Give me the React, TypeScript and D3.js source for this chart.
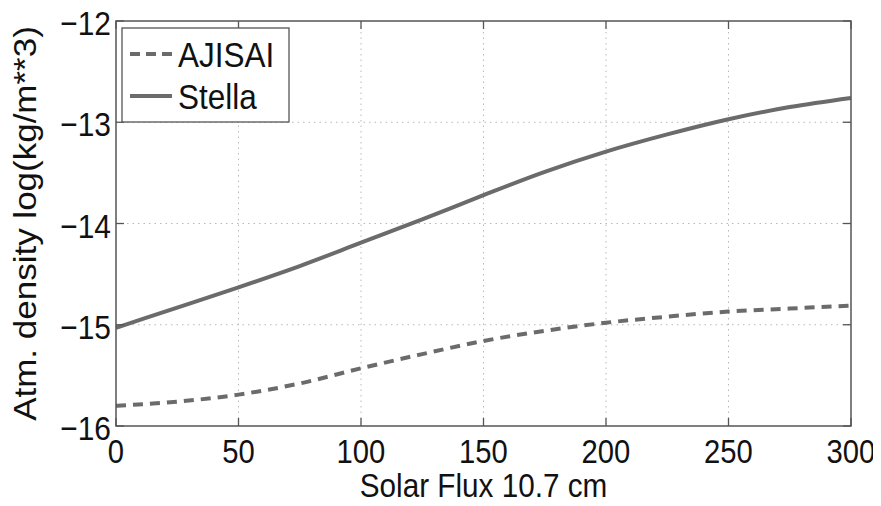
import React, {FC, useEffect, useRef} from 'react';
import * as d3 from 'd3';

// solar flux values (x) and densities
const flux = [0, 25, 50, 75, 100, 125, 150, 175, 200, 225, 250, 275, 300];
const stella = [-15.03, -14.83, -14.63, -14.42, -14.19, -13.96, -13.72, -13.49, -13.29, -13.12, -12.97, -12.85, -12.76];
const ajisai = [-15.8, -15.76, -15.69, -15.58, -15.43, -15.29, -15.16, -15.06, -14.98, -14.92, -14.87, -14.84, -14.81];

const xTicks = [0, 50, 100, 150, 200, 250, 300];
const yTicks = [-16, -15, -14, -13, -12];

const seriesNames = ['AJISAI', 'Stella'];

const W = 881;
const H = 506;
const FONT = '"Liberation Sans", Arial, Helvetica, sans-serif';
const LINE = '#6b6b6b';

const Chart: FC = () => {
  const ref = useRef<SVGSVGElement>(null);

  const margin = {top: 21, right: 30, bottom: 80, left: 116},
    width = 851 - margin.left,
    height = 426 - margin.top;

  useEffect(() => {
    const root = d3.select(ref.current);
    root.selectAll('*').remove();

    const svg = root
      .append('g')
      .attr('transform', `translate(${margin.left}, ${margin.top})`);

    const x = d3.scaleLinear().domain([0, 300]).range([0, width]);
    const y = d3.scaleLinear().domain([-16, -12]).range([height, 0]);

    // dotted grid
    svg
      .append('g')
      .selectAll('line')
      .data(xTicks.slice(1, -1))
      .enter()
      .append('line')
      .attr('x1', d => x(d))
      .attr('x2', d => x(d))
      .attr('y1', 0)
      .attr('y2', height)
      .attr('stroke', '#b8b8b8')
      .attr('stroke-width', 1)
      .attr('stroke-dasharray', '1.5,4');
    svg
      .append('g')
      .selectAll('line')
      .data(yTicks.slice(1, -1))
      .enter()
      .append('line')
      .attr('x1', 0)
      .attr('x2', width)
      .attr('y1', d => y(d))
      .attr('y2', d => y(d))
      .attr('stroke', '#b8b8b8')
      .attr('stroke-width', 1)
      .attr('stroke-dasharray', '1.5,4');

    // series lines
    const line = d3
      .line<number>()
      .x((_, i) => x(flux[i]))
      .y(d => y(d))
      .curve(d3.curveMonotoneX);

    svg
      .append('path')
      .datum(ajisai)
      .attr('fill', 'none')
      .attr('stroke', LINE)
      .attr('stroke-width', 4)
      .attr('stroke-dasharray', '10,7')
      .attr('d', line);
    svg
      .append('path')
      .datum(stella)
      .attr('fill', 'none')
      .attr('stroke', LINE)
      .attr('stroke-width', 4)
      .attr('d', line);

    // frame + ticks
    svg
      .append('rect')
      .attr('width', width)
      .attr('height', height)
      .attr('fill', 'none')
      .attr('stroke', '#555')
      .attr('stroke-width', 1.5);

    const tickLen = 8;
    xTicks.forEach(t => {
      svg.append('line').attr('x1', x(t)).attr('x2', x(t)).attr('y1', height).attr('y2', height - tickLen).attr('stroke', '#555').attr('stroke-width', 1.3);
      svg.append('line').attr('x1', x(t)).attr('x2', x(t)).attr('y1', 0).attr('y2', tickLen).attr('stroke', '#555').attr('stroke-width', 1.3);
      svg
        .append('text')
        .attr('transform', `translate(${x(t)}, ${height + 37}) scale(0.86, 1)`)
        .attr('text-anchor', 'middle')
        .attr('font-family', FONT)
        .attr('font-size', 34)
        .attr('fill', '#111')
        .text(t);
    });
    yTicks.forEach(t => {
      svg.append('line').attr('x1', 0).attr('x2', tickLen).attr('y1', y(t)).attr('y2', y(t)).attr('stroke', '#555').attr('stroke-width', 1.3);
      svg.append('line').attr('x1', width).attr('x2', width - tickLen).attr('y1', y(t)).attr('y2', y(t)).attr('stroke', '#555').attr('stroke-width', 1.3);
      svg
        .append('text')
        .attr('transform', `translate(-5, ${y(t) + 14}) scale(0.88, 1)`)
        .attr('text-anchor', 'end')
        .attr('font-family', FONT)
        .attr('font-size', 34)
        .attr('fill', '#111')
        .text(`\u2212${Math.abs(t)}`);
    });

    // axis labels
    svg
      .append('text')
      .attr('transform', `translate(${width / 2}, ${height + 71}) scale(0.9, 1)`)
      .attr('text-anchor', 'middle')
      .attr('font-family', FONT)
      .attr('font-size', 33)
      .attr('fill', '#111')
      .text('Solar Flux 10.7 cm');
    svg
      .append('text')
      .attr('transform', `translate(${36 - margin.left}, ${height / 2}) rotate(-90) scale(1, 0.9)`)
      .attr('text-anchor', 'middle')
      .attr('font-family', FONT)
      .attr('font-size', 35)
      .attr('fill', '#111')
      .text('Atm. density log(kg/m**3)');

    // legend
    const lg = svg.append('g').attr('transform', `translate(${122 - margin.left}, ${28 - margin.top})`);
    lg.append('rect')
      .attr('width', 167)
      .attr('height', 94)
      .attr('fill', '#fff')
      .attr('stroke', '#555')
      .attr('stroke-width', 1.3);
    seriesNames.forEach((name, i) => {
      const cy = 26 + i * 42;
      lg.append('line')
        .attr('x1', 8)
        .attr('x2', 50)
        .attr('y1', cy)
        .attr('y2', cy)
        .attr('stroke', LINE)
        .attr('stroke-width', 4)
        .attr('stroke-dasharray', i === 0 ? '10,6' : null);
      lg.append('text')
        .attr('transform', `translate(56, ${cy + 13}) scale(0.9, 1)`)
        .attr('font-family', FONT)
        .attr('font-size', 35)
        .attr('fill', '#111')
        .text(name);
    });
  }, [height, margin.left, margin.top, width]);

  return <svg ref={ref} width={W} height={H} style={{display: 'block', overflow: 'visible'}} />;
};

const App: FC = () => (
  <div style={{margin: -8, background: '#fff'}}>
    <Chart />
  </div>
);

export default App;
